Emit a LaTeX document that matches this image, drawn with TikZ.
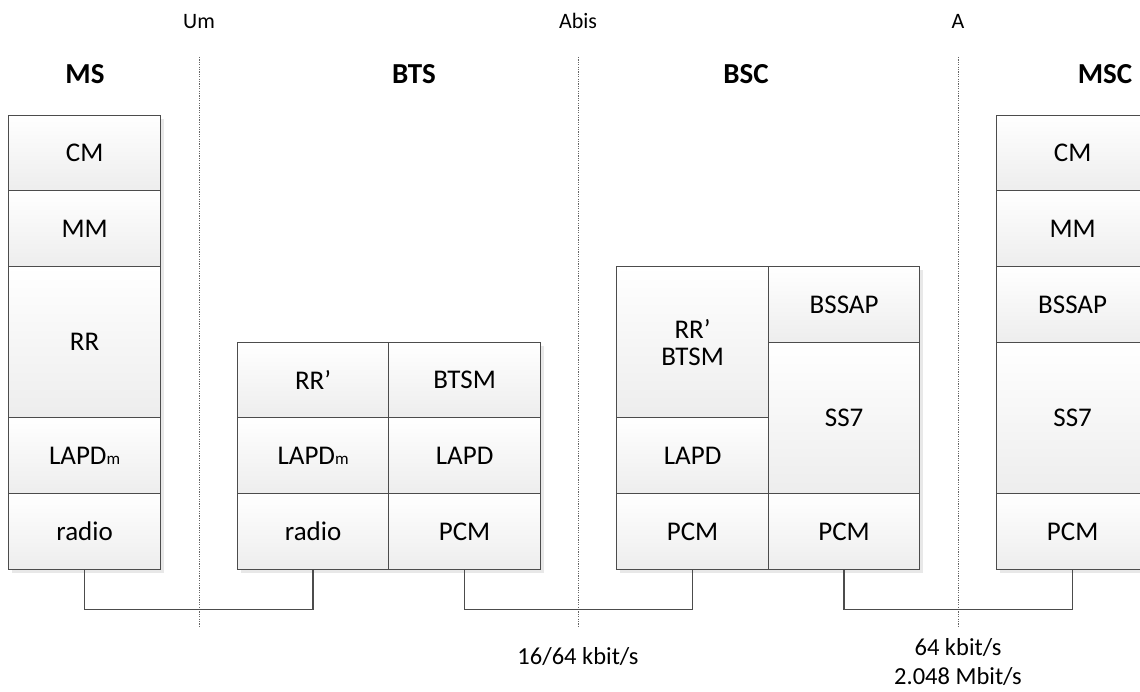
\documentclass[tikz,border=0pt]{standalone}
\usepackage{fontspec}
\setmainfont{Carlito}
\usetikzlibrary{shadows}
\begin{document}
\begin{tikzpicture}[x=1pt,y=-1pt,
  layer/.style={draw=black!70, line width=1.2pt, top color=white, bottom color=black!7,
    inner sep=0pt, anchor=north west, text=black, align=center,
    font=\fontsize{27}{27}\selectfont,
    drop shadow={shadow xshift=3pt, shadow yshift=-3pt, fill=black!9, opacity=1}},
  w/.style={minimum width=#1pt},
  h/.style={minimum height=#1pt},
  title/.style={font=\bfseries\fontsize{29}{30}\selectfont, text=black},
  iface/.style={font=\fontsize{22}{24}\selectfont, text=black},
  rate/.style={font=\fontsize{24.5}{29}\selectfont, text=black, align=center},
  border/.style={draw=black!60, line width=0.8pt, dash pattern=on 1.2pt off 1.2pt},
  link/.style={draw=black!70, line width=1.3pt},
  linkshadow/.style={draw=black!10, line width=1.3pt}
]
\clip (0,0) rectangle (1140,692);
\newcommand{\lapdm}{LAPD{\fontsize{17}{17}\selectfont m}}

% interface borders
\coordinate (um-t) at (199,57);   \coordinate (um-b) at (199,627);
\coordinate (ab-t) at (578,57);   \coordinate (ab-b) at (578,627);
\coordinate (a-t)  at (958,57);   \coordinate (a-b)  at (958,627);
\draw[border] (um-t) -- (um-b);
\draw[border] (ab-t) -- (ab-b);
\draw[border] (a-t) -- (a-b);

\node[iface] (um) at (199,22) {Um};
\node[iface] (abis) at (578,21) {Abis};
\node[iface] (a) at (958,21) {A};

% entity titles
\node[title] (t-ms) at (85,74) {MS};
\node[title] (t-bts) at (414,74) {BTS};
\node[title] (t-bsc) at (746,74) {BSC};
\node[title] (t-msc) at (1105,74) {MSC};

% MS protocol stack
\node[layer, w=152, h=75]  (ms-cm)    at (8,115) {CM};
\node[layer, w=152, h=76]  (ms-mm)    at (8,190) {MM};
\node[layer, w=152, h=151] (ms-rr)    at (8,266) {RR};
\node[layer, w=152, h=76]  (ms-lapdm) at (8,417) {\lapdm};
\node[layer, w=152, h=76]  (ms-radio) at (8,493) {radio};

% BTS protocol stack
\node[layer, w=151, h=75]  (bts-rr)    at (237,342) {RR’};
\node[layer, w=151, h=76]  (bts-lapdm) at (237,417) {\lapdm};
\node[layer, w=151, h=76]  (bts-radio) at (237,493) {radio};
\node[layer, w=152, h=75]  (bts-btsm)  at (388,342) {BTSM};
\node[layer, w=152, h=76]  (bts-lapd)  at (388,417) {LAPD};
\node[layer, w=152, h=76]  (bts-pcm)   at (388,493) {PCM};

% BSC protocol stack
\node[layer, w=152, h=151] (bsc-rr)    at (616,266) {RR’\\BTSM};
\node[layer, w=152, h=76]  (bsc-lapd)  at (616,417) {LAPD};
\node[layer, w=152, h=76]  (bsc-pcm1)  at (616,493) {PCM};
\node[layer, w=151, h=76]  (bsc-bssap) at (768,266) {BSSAP};
\node[layer, w=151, h=151] (bsc-ss7)   at (768,342) {SS7};
\node[layer, w=151, h=76]  (bsc-pcm2)  at (768,493) {PCM};

% MSC protocol stack
\node[layer, w=152, h=75]  (msc-cm)    at (996,115) {CM};
\node[layer, w=152, h=76]  (msc-mm)    at (996,190) {MM};
\node[layer, w=152, h=76]  (msc-bssap) at (996,266) {BSSAP};
\node[layer, w=152, h=151] (msc-ss7)   at (996,342) {SS7};
\node[layer, w=152, h=76]  (msc-pcm)   at (996,493) {PCM};

% physical links
\foreach \p/\q in {ms-radio/bts-radio, bts-pcm/bsc-pcm1, bsc-pcm2/msc-pcm}{
  \draw[linkshadow, shift={(3,3)}] (\p.south) -- ++(0,39) -| (\q.south);
  \draw[link] (\p.south) -- ++(0,39) -| (\q.south);
}

% link rates
\node[rate] (r-abis) at (578,657) {16/64 kbit/s};
\node[rate] (r-a) at (958,662) {64 kbit/s\\2.048 Mbit/s};
\end{tikzpicture}
\end{document}
